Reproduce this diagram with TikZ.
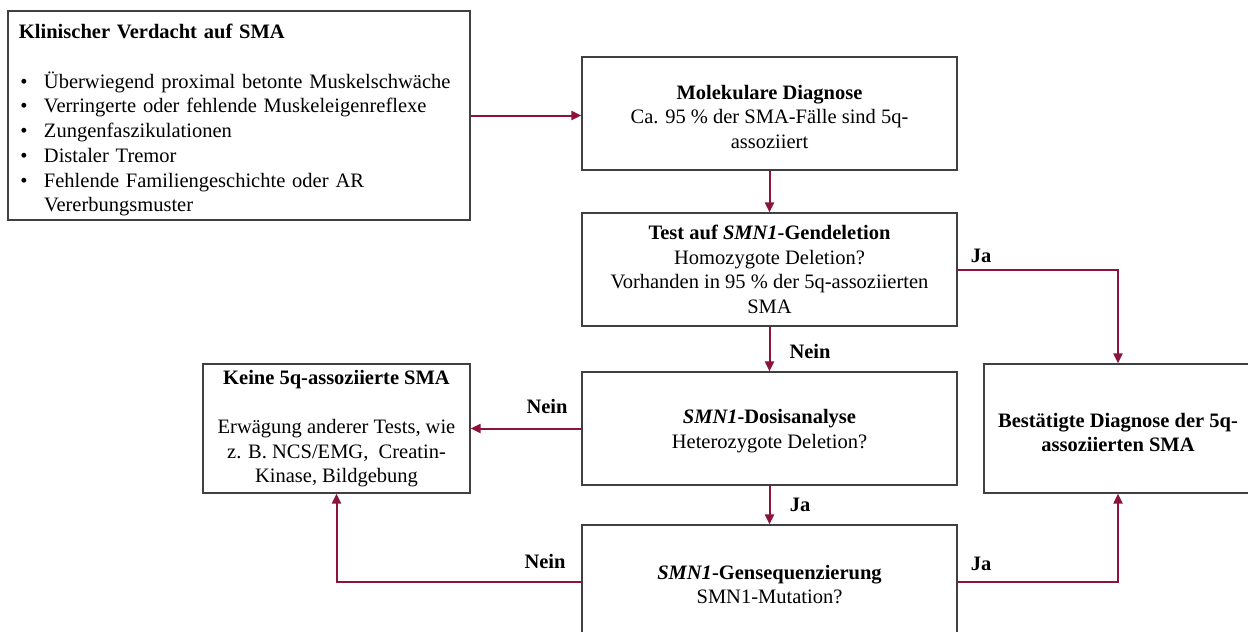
\documentclass[tikz,border=0pt]{standalone}
\usepackage{fontspec}
\setmainfont{Liberation Serif}
\usetikzlibrary{arrows.meta}
\definecolor{arr}{RGB}{140,20,60}
\definecolor{bord}{RGB}{64,64,64}
\newcommand{\bul}{\makebox[25pt][l]{\hspace{1.5pt}\textbullet}}
\newcommand{\push}[1]{\rule{0pt}{#1}}
\begin{document}
\begin{tikzpicture}[x=1pt,y=-1pt,
  box/.style={draw=bord, line width=1.2pt, fill=white, inner sep=0pt, align=center,
    font=\fontsize{20.5}{24.7}\selectfont},
  conn/.style={draw=arr, line width=2pt, -{Triangle[length=10pt,width=9pt]}},
  lab/.style={font=\fontsize{20.5}{24.7}\selectfont\bfseries, inner sep=0pt}]
\useasboundingbox (0,0) rectangle (1248,632);
\clip (0,0) rectangle (1248,632);
\fill[white] (0,0) rectangle (1248,632);

\node[box, minimum width=462, minimum height=209, text width=440, align=left] (A) at (239,115.5)
 {\push{24pt}\textbf{Klinischer Verdacht auf SMA}\\[24.7pt]
  \bul Überwiegend proximal betonte Muskelschwäche\\
  \bul Verringerte oder fehlende Muskeleigenreflexe\\
  \bul Zungenfaszikulationen\\
  \bul Distaler Tremor\\
  \bul Fehlende Familiengeschichte oder AR\\
  \hspace*{25pt}Vererbungsmuster};

\node[box, minimum width=375, minimum height=113] (B) at (769.5,113.5)
 {\push{21pt}\textbf{Molekulare Diagnose}\\Ca. 95 \% der SMA-Fälle sind 5q-\\assoziiert};

\node[box, minimum width=375, minimum height=113] (C) at (769.5,269.5)
 {\textbf{Test auf \textit{SMN1}-Gendeletion}\\Homozygote Deletion?\\Vorhanden in 95 \% der 5q-assoziierten\\SMA};

\node[box, minimum width=267, minimum height=129] (D) at (336.5,428.5)
 {\textbf{Keine 5q-assoziierte SMA}\\[24.7pt]Erwägung anderer Tests, wie\\z. B. NCS/EMG,\ \ Creatin-\\Kinase, Bildgebung};

\node[box, minimum width=375, minimum height=113] (E) at (769.5,428.5)
 {\push{20pt}\textbf{\textit{SMN1}-Dosisanalyse}\\Heterozygote Deletion?};

\node[box, minimum width=268, minimum height=129] (F) at (1118,428.5)
 {\push{22pt}\textbf{Bestätigte Diagnose der 5q-}\\\textbf{assoziierten SMA}};

\node[box, minimum width=375, minimum height=113] (G) at (769.5,581.5)
 {\push{20pt}\textbf{\textit{SMN1}-Gensequenzierung}\\SMN1-Mutation?};

\draw[conn] (A.east) -- (A.east -| B.west);
\draw[conn] (B.south) -- (C.north);
\draw[conn] (C.south) -- (E.north);
\draw[conn] (E.south) -- (G.north);
\draw[conn] (C.east) -| (F.north);
\draw[conn] (E.west) -- (D.east);
\draw[conn] (G.west) -| (D.south);
\draw[conn] (G.east) -| (F.south);

\node[lab] (l1) at (981,256) {Ja};
\node[lab] (l2) at (810,351) {Nein};
\node[lab] (l3) at (547,406) {Nein};
\node[lab] (l4) at (800,505) {Ja};
\node[lab] (l5) at (545,561) {Nein};
\node[lab] (l6) at (981,564) {Ja};
\end{tikzpicture}
\end{document}
